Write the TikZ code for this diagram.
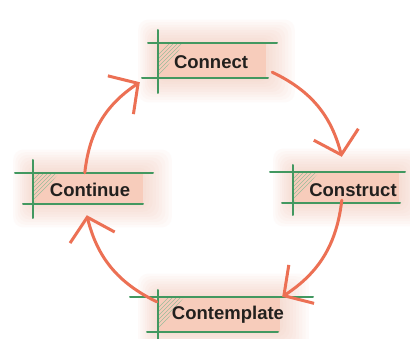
\documentclass[tikz,border=0pt]{standalone}
\usepackage{fontspec}
\setmainfont{Liberation Sans}
\usetikzlibrary{arrows.meta}
\definecolor{leaf}{RGB}{66,152,96}
\definecolor{coral}{RGB}{236,112,84}
\definecolor{peach}{RGB}{244,182,158}
\definecolor{ink}{RGB}{34,32,30}
\tikzset{
  rule/.style={leaf, line width=2pt, line cap=round},
  flow/.style={coral, line width=3pt, line cap=round,
    -{Straight Barb[length=21pt,width=46pt,line width=3pt]}},
  stagebox/.style={rectangle, inner sep=0pt, fill=peach!70},
  caption/.style={font=\bfseries\fontsize{18.5}{18.5}\selectfont, text=ink, inner sep=0pt},
}
% one stage: glow, filled box, corner hatching
% #1 name, #2 left (rule x), #3 right, #4 top, #5 bottom
\newcommand\stagefill[5]{%
  \foreach \k in {1,...,9}
    \fill[peach, opacity=0.055, rounded corners=10pt]
      (#2-\k*2.2,#4-\k*2.6) rectangle (#3+\k*3.2,#5+\k*2.6);
  \node[stagebox, minimum width={#3-#2}, minimum height={#5-#4}]
    (#1) at ({(#2+#3)/2},{(#4+#5)/2}) {};
  \begin{scope}
    \clip (#2,#4) -- (#2+26,#4) -- (#2,#5) -- cycle;
    \foreach \d in {0,4,...,44}
      \draw[leaf!70, line width=0.5pt, opacity=0.75] (#2+\d-24,#5) -- ++(36,-36);
  \end{scope}
}
\begin{document}
\begin{tikzpicture}[x=1pt,y=-1pt]
\useasboundingbox (0,0) rectangle (410,339);
\fill[white] (0,0) rectangle (410,339);

% the four stages
\stagefill{connect}{158}{266}{43}{79}
\stagefill{construct}{293}{399}{172}{203}
\stagefill{contemplate}{158}{280}{297}{332}
\stagefill{continue}{33}{143}{173}{204}

% horizontal and vertical rules
\draw[rule] (148,43) -- (277,43);
\draw[rule] (142,78.5) -- (268,78.5);
\draw[rule] (158,30) -- (158,93);

\draw[rule] (270,172) -- (405,172);
\draw[rule] (282,203) -- (400,203);
\draw[rule] (293,165) -- (293,215);

\draw[rule] (130,297) -- (313,297);
\draw[rule] (147,332) -- (278,332);
\draw[rule] (158,290) -- (158,339);

\draw[rule] (15,173) -- (153,173);
\draw[rule] (23,204) -- (143,204);
\draw[rule] (33,160) -- (33,218);

% labels
\node[caption] (connect-text) at (211,62) {Connect};
\node[caption] (construct-text) at (353,190) {Construct};
\node[caption] (contemplate-text) at (228,315) {Contemplate};
\node[caption] (continue-text) at (90,190) {Continue};

% cycle arrows
\draw[flow] ([shift={(6,-7)}]connect.south east) to[bend left=25]
  ([shift={(49,-15)}]construct.north west);
\draw[flow] ([shift={(49,-3)}]construct.south west) to[bend left=25]
  ([shift={(2,0)}]contemplate.north east);
\draw[flow] ([shift={(-1,5)}]contemplate.north west) to[bend left=25]
  ([shift={(54,11)}]continue.south west);
\draw[flow] ([shift={(52,0)}]continue.north west) to[bend left=25]
  ([shift={(-18,3)}]connect.south west);
\end{tikzpicture}
\end{document}
